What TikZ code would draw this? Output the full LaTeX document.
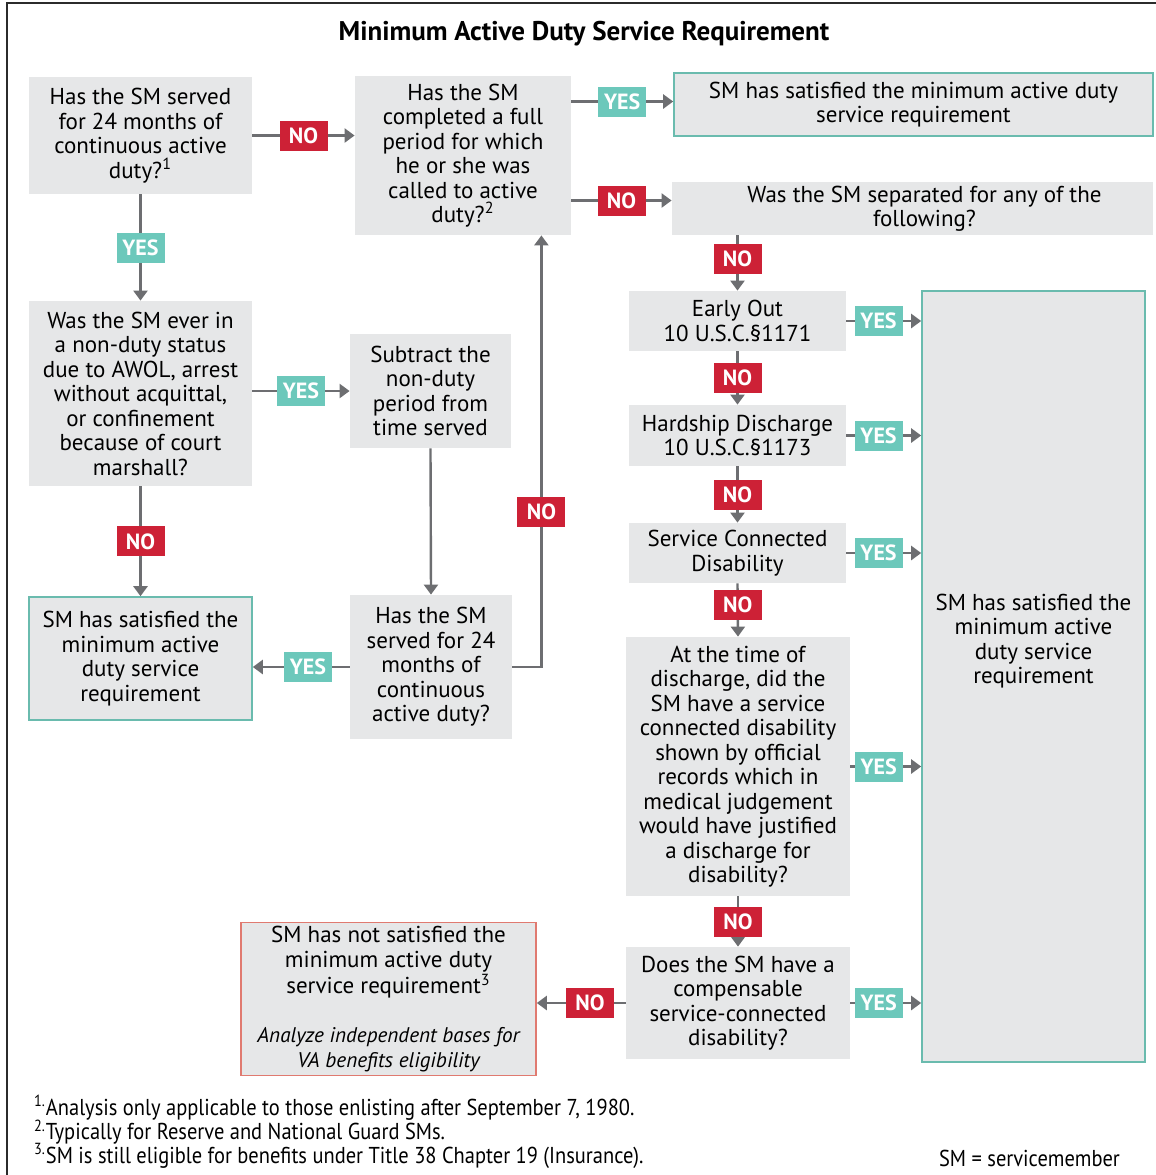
\documentclass[tikz,border=0pt]{standalone}
\usepackage{fontspec}
\setmainfont{PT Sans}
\newfontfamily\notefont[FakeStretch=0.89]{PT Sans}
\usetikzlibrary{arrows.meta}
\definecolor{boxgray}{HTML}{E6E7E8}
\definecolor{yesteal}{HTML}{6CC8BB}
\definecolor{tealline}{HTML}{6ABBAE}
\definecolor{nored}{HTML}{CD2136}
\definecolor{redline}{HTML}{E07A70}
\definecolor{arrgray}{HTML}{6D6E71}
\definecolor{framegray}{HTML}{2B2B2B}
\newcommand{\boxfont}{\fontsize{11.5}{12.25}\selectfont}
\newcommand{\notesize}{\notefont\fontsize{11.5}{12}\selectfont}
\newcommand{\hintfont}{\itshape\fontsize{10.6}{12.25}\selectfont}
\tikzset{qbox/.style={fill=boxgray, align=center, inner sep=0pt, font=\boxfont},
  okbox/.style={qbox, draw=tealline, line width=0.8pt},
  failbox/.style={qbox, draw=redline, line width=0.8pt},
  yeslbl/.style={fill=yesteal, text=white, font=\bfseries\fontsize{11}{12}\selectfont, minimum width=24pt, minimum height=15pt, inner sep=0pt},
  nolbl/.style={yeslbl, fill=nored},
  arr/.style={draw=arrgray, line width=1.2pt, -{Triangle[width=7pt,length=5pt]}},}
\begin{document}
\begin{tikzpicture}[x=0.5pt,y=-0.5pt]
  \useasboundingbox (0,0) rectangle (1156,1175);
  \draw[framegray, line width=0.75pt] (7,1180) -- (7,3) -- (1160,3);
  \node[font=\bfseries\fontsize{13.5}{15}\selectfont] (title) at (584,34) {Minimum Active Duty Service Requirement};

  % left column
  \node[qbox, minimum width=111.5pt, minimum height=58.5pt] (q1) at (140.5,135.5) {Has the SM served\\for 24 months of\\continuous active\\duty?\textsuperscript{1}};
  \node[qbox, minimum width=111.5pt, minimum height=92.5pt] (q4) at (140.5,393.5) {Was the SM ever in\\a non-duty status\\due to AWOL, arrest\\without acquittal,\\or confinement\\because of court\\marshall?};
  \node[okbox, minimum width=111.5pt, minimum height=61.5pt] (r2) at (140.5,658.5) {SM has satisfied the\\minimum active\\duty service\\requirement};

  % middle column
  \node[qbox, minimum width=108pt, minimum height=79.5pt] (q2) at (463,155.5) {Has the SM\\completed a full\\period for which\\he or she was\\called to active\\duty?\textsuperscript{2}};
  \node[qbox, minimum width=80.5pt, minimum height=57pt] (sub) at (430.5,391) {Subtract the\\non-duty\\period from\\time served};
  \node[qbox, minimum width=81pt, minimum height=72pt] (q5) at (431,667) {Has the SM\\served for 24\\months of\\continuous\\active duty?};
  \node[failbox, minimum width=147.5pt, minimum height=76.5pt] (notsat) at (388.5,999) {SM has not satisfied the\\minimum active duty\\service requirement\textsuperscript{3}\\[12.25pt]\hintfont Analyze independent bases for\\\hintfont VA benefits eligibility};

  % right side
  \node[okbox, minimum width=239.5pt, minimum height=31.5pt] (r1) at (913.5,104.5) {SM has satisfied the minimum active duty\\service requirement};
  \node[qbox, minimum width=240.5pt, minimum height=26.5pt] (q3) at (912.5,208.5) {\hspace*{12pt}Was the SM separated for any of the\\\hspace*{12pt}following?};
  \node[qbox, minimum width=108.5pt, minimum height=30pt] (early) at (737.5,321) {Early Out\\10 U.S.C.§1171};
  \node[qbox, minimum width=108.5pt, minimum height=30.5pt] (hard) at (737.5,435.5) {Hardship Discharge\\10 U.S.C.§1173};
  \node[qbox, minimum width=108.5pt, minimum height=30pt] (scd) at (737.5,553) {Service Connected\\Disability};
  \node[qbox, minimum width=112pt, minimum height=129.5pt] (atq) at (738,766.5) {At the time of\\discharge, did the\\SM have a service\\connected disability\\shown by official\\records which in\\medical judgement\\would have justified\\a discharge for\\disability?};
  \node[qbox, minimum width=112pt, minimum height=56pt] (comp) at (738,1003) {Does the SM have a\\compensable\\service-connected\\disability?};
  \node[okbox, minimum width=111.5pt, minimum height=385.5pt] (r3) at (1033.5,676.5) {};
  \node[font=\boxfont, align=center] (r3txt) at (1033.5,641) {SM has satisfied the\\minimum active\\duty service\\requirement};

  % connectors
  \draw[arr] (q1.east) -- node[nolbl]{NO} (q1.east -| q2.west);
  \draw[arr] (q1.south) -- node[yeslbl]{YES} (q4.north);
  \draw[arr] (q4.east |- sub.west) -- node[yeslbl]{YES} (sub.west);
  \draw[arr] (q4.south) -- node[nolbl]{NO} (r2.north);
  \draw[arr] (sub.south) -- (q5.north);
  \draw[arr] (q5.west) -- node[yeslbl, pos=0.43]{YES} (q5.west -| r2.east);
  \draw[arr] (q5.east) -| node[nolbl, pos=0.68]{NO} ([xshift=-15pt]q2.south east);
  \draw[arr] ([yshift=1.5pt]r1.west -| q2.east) -- node[yeslbl]{YES} ([yshift=1.5pt]r1.west);
  \draw[arr] ([yshift=4pt]q3.west -| q2.east) -- node[nolbl]{NO} ([yshift=4pt]q3.west);
  \draw[arr] (early.north |- q3.south) -- node[nolbl, pos=0.42]{NO} (early.north);
  \draw[arr] (early.south) -- node[nolbl]{NO} (hard.north);
  \draw[arr] (hard.south) -- node[nolbl]{NO} (scd.north);
  \draw[arr] (scd.south) -- node[nolbl, pos=0.4]{NO} (atq.north);
  \draw[arr] (atq.south) -- node[nolbl]{NO} (comp.north);
  \draw[arr] (comp.west) -- node[nolbl, pos=0.4]{NO} (comp.west -| notsat.east);
  \draw[arr] (early.east) -- node[yeslbl, pos=0.43]{YES} (early.east -| r3.west);
  \draw[arr] (hard.east) -- node[yeslbl, pos=0.43]{YES} (hard.east -| r3.west);
  \draw[arr] (scd.east) -- node[yeslbl, pos=0.43]{YES} (scd.east -| r3.west);
  \draw[arr] (atq.east) -- node[yeslbl, pos=0.4]{YES} (atq.east -| r3.west);
  \draw[arr] (comp.east) -- node[yeslbl, pos=0.4]{YES} (comp.east -| r3.west);

  % footnotes
  \node[anchor=west, font=\notesize] (fn1) at (27,1108) {\textsuperscript{1.}Analysis only applicable to those enlisting after September 7, 1980.};
  \node[anchor=west, font=\notesize] (fn2) at (27,1132) {\textsuperscript{2.}Typically for Reserve and National Guard SMs.};
  \node[anchor=west, font=\notesize] (fn3) at (27,1156) {\textsuperscript{3.}SM is still eligible for benefits under Title 38 Chapter 19 (Insurance).};
  \node[anchor=east, font=\notesize] (smdef) at (1127,1158) {SM = servicemember};
\end{tikzpicture}
\end{document}
